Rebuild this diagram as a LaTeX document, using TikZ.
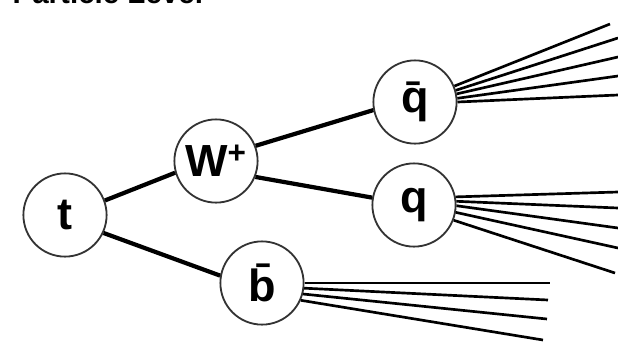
\documentclass[tikz,border=0pt]{standalone}
\usepackage{fontspec}
\setsansfont{Liberation Sans}

\begin{document}
\begin{tikzpicture}[x=0.025cm, y=-0.025cm,
    particle/.style ={circle, draw=black!80, line width=1.3pt, fill=white,
                      minimum size=2.08cm, inner sep=0pt,
                      font=\sffamily\bfseries\fontsize{32}{32}\selectfont},
    decay/.style ={line width=3pt},
    jet/.style ={line width=1.9pt}]
   \clip (0,0) rectangle (618,343);
   \node[anchor=base east, font=\sffamily\bfseries\fontsize{21}{21}\selectfont]
        (title) at (208,3.5) {Particle Level};
   \node[particle] (t) at (65,215)  {t};
   \node[particle] (W) at (216,161)  {W\textsuperscript{+}};
   \node[particle] (qbar) at (415,102)  {\=q};
   \node[particle] (q) at (414,205)  {q};
   \node[particle] (bbar) at (262,283)  {\=b};
   \draw[decay] (t.20) to  (W.196);
   \draw[decay] (W.21) to  (qbar.191);
   \draw[decay] (W.-22) to  (q.170);
   \draw[decay] (t.-25) to  (bbar.170);
   % jets
   \foreach \a/\ex/\ey [count=\i] in {22/610/24, 16/618/38, 11/618/57, 5/618/76, 0/618/95} {
     \coordinate (qbarjet\i) at (\ex,\ey);
     \draw[jet] (qbar.\a) -- (qbarjet\i);
   }
   \foreach \a/\ex/\ey [count=\i] in {11/618/192, 5/618/208, -1/618/228, -10/618/248, -21/615/273} {
     \coordinate (qjet\i) at (\ex,\ey);
     \draw[jet] (q.\a) -- (qjet\i);
   }
   \foreach \a/\ex/\ey [count=\i] in {0/550/283, -7/548/300, -15/547/319, -24/543/340} {
     \coordinate (bbarjet\i) at (\ex,\ey);
     \draw[jet] (bbar.\a) -- (bbarjet\i);
   }
 \end{tikzpicture}
\end{document}
